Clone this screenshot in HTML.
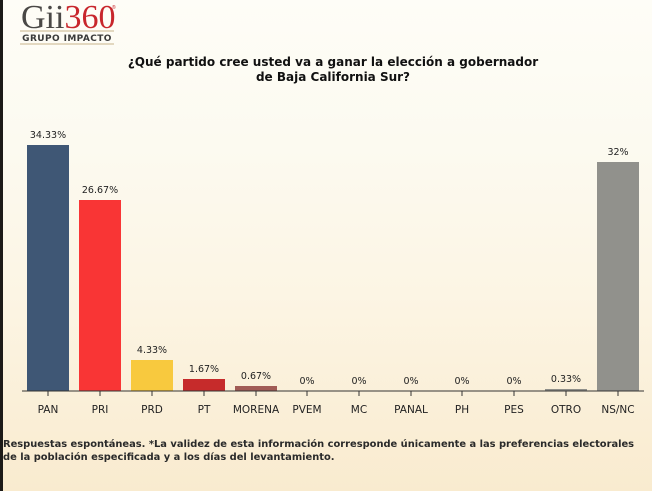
<!DOCTYPE html>
<html><head><meta charset="utf-8">
<style>
html,body{margin:0;padding:0;}
body{width:652px;height:491px;overflow:hidden;position:relative;
background:linear-gradient(to bottom,#fefdf7 0%,#fcfaf0 30%,#fcf5e4 60%,#f9ebcf 100%);}
svg{position:absolute;left:0;top:0;}
</style></head><body>
<svg width="652" height="491" viewBox="0 0 652 491" xmlns="http://www.w3.org/2000/svg">
<rect x="0" y="0" width="3" height="491" fill="#1c1a18"/>
<!-- logo -->
<text x="21" y="28" font-family="Liberation Serif, serif" font-size="34" fill="#4a4846">Gii<tspan fill="#c8262c">360</tspan></text>
<text x="112" y="9" font-family="Liberation Sans, sans-serif" font-size="5" fill="#c8262c">®</text>
<line x1="20" y1="31" x2="114" y2="31" stroke="#c9b48a" stroke-width="1"/>
<line x1="20" y1="44" x2="114" y2="44" stroke="#c9b48a" stroke-width="1"/>
<text x="67" y="41" text-anchor="middle" font-family="DejaVu Sans, Verdana, sans-serif" font-weight="bold" font-size="9" letter-spacing="0.4" fill="#3a3a3a">GRUPO IMPACTO</text>
<!-- title -->
<g font-family="DejaVu Sans, Verdana, sans-serif" font-weight="bold" font-size="12" fill="#111" text-anchor="middle">
<text x="333" y="66">¿Qué partido cree usted va a ganar la elección a gobernador</text>
<text x="333" y="81">de Baja California Sur?</text>
</g>
<!-- bars -->
<g>
<rect x="27" y="145" width="42" height="246" fill="#3f5775"/>
<rect x="79" y="200" width="42" height="191" fill="#f93535"/>
<rect x="131" y="360" width="42" height="31" fill="#f8c93e"/>
<rect x="183" y="379" width="42" height="12" fill="#c62b2b"/>
<rect x="235" y="386" width="42" height="5" fill="#a15b55"/>
<rect x="545" y="389" width="42" height="2" fill="#8f8f8a"/>
<rect x="597" y="162" width="42" height="229" fill="#91918c"/>
</g>
<!-- axis -->
<line x1="22" y1="391" x2="644" y2="391" stroke="#333" stroke-width="1"/>
<g stroke="#333" stroke-width="1">
<line x1="48" y1="391" x2="48" y2="396"/>
<line x1="100" y1="391" x2="100" y2="396"/>
<line x1="152" y1="391" x2="152" y2="396"/>
<line x1="204" y1="391" x2="204" y2="396"/>
<line x1="256" y1="391" x2="256" y2="396"/>
<line x1="307" y1="391" x2="307" y2="396"/>
<line x1="359" y1="391" x2="359" y2="396"/>
<line x1="411" y1="391" x2="411" y2="396"/>
<line x1="462" y1="391" x2="462" y2="396"/>
<line x1="514" y1="391" x2="514" y2="396"/>
<line x1="566" y1="391" x2="566" y2="396"/>
<line x1="618" y1="391" x2="618" y2="396"/>
</g>
<!-- value labels -->
<g font-family="DejaVu Sans, Verdana, sans-serif" font-size="9.5" fill="#222" text-anchor="middle">
<text x="48" y="138">34.33%</text>
<text x="100" y="193">26.67%</text>
<text x="152" y="353">4.33%</text>
<text x="204" y="372">1.67%</text>
<text x="256" y="379">0.67%</text>
<text x="307" y="384">0%</text>
<text x="359" y="384">0%</text>
<text x="411" y="384">0%</text>
<text x="462" y="384">0%</text>
<text x="514" y="384">0%</text>
<text x="566" y="382">0.33%</text>
<text x="618" y="155">32%</text>
</g>
<!-- category labels -->
<g font-family="DejaVu Sans, Verdana, sans-serif" font-size="10.5" fill="#222" text-anchor="middle">
<text x="48" y="413">PAN</text>
<text x="100" y="413">PRI</text>
<text x="152" y="413">PRD</text>
<text x="204" y="413">PT</text>
<text x="256" y="413">MORENA</text>
<text x="307" y="413">PVEM</text>
<text x="359" y="413">MC</text>
<text x="411" y="413">PANAL</text>
<text x="462" y="413">PH</text>
<text x="514" y="413">PES</text>
<text x="566" y="413">OTRO</text>
<text x="618" y="413">NS/NC</text>
</g>
<!-- footnote -->
<g font-family="DejaVu Sans, Verdana, sans-serif" font-weight="bold" font-size="9.9" fill="#2a2a2a">
<text x="3" y="447">Respuestas espontáneas. *La validez de esta información corresponde únicamente a las preferencias electorales</text>
<text x="3" y="460">de la población especificada y a los días del levantamiento.</text>
</g>
</svg>
</body></html>
